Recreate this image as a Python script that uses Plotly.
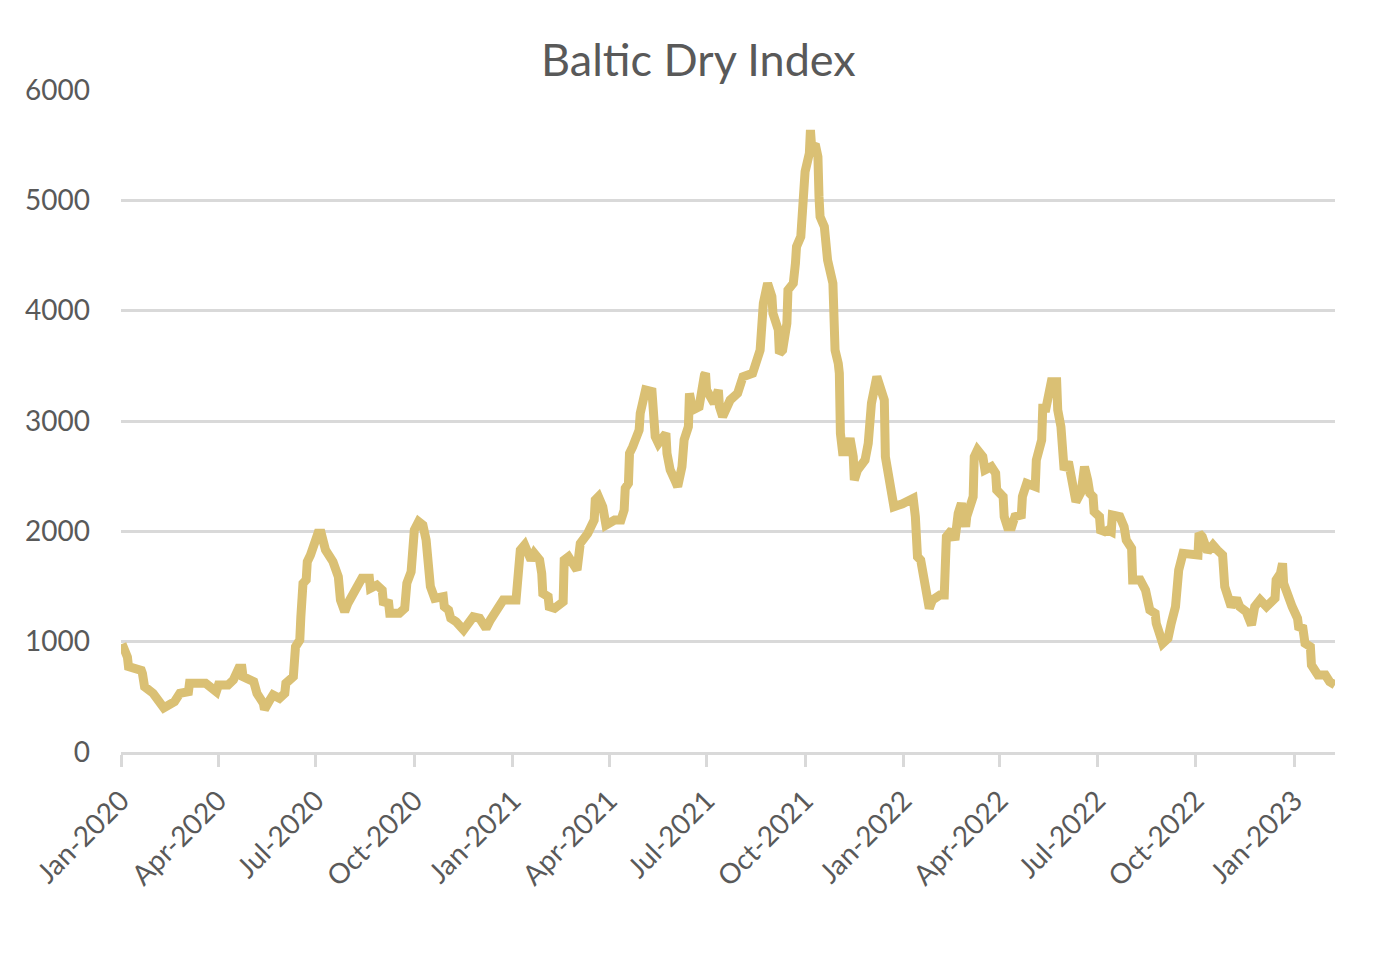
import plotly.graph_objects as go

# Baltic Dry Index
dates = [
    "2020-01-02", "2020-01-06", "2020-01-07", "2020-01-08", "2020-01-17", "2020-01-20",
    "2020-01-21", "2020-01-23", "2020-01-31", "2020-02-06", "2020-02-10", "2020-02-20",
    "2020-02-25", "2020-03-04", "2020-03-05", "2020-03-20", "2020-03-30", "2020-04-01",
    "2020-04-10", "2020-04-15", "2020-04-20", "2020-04-23", "2020-04-24", "2020-05-04",
    "2020-05-07", "2020-05-13", "2020-05-14", "2020-05-19", "2020-05-22", "2020-05-28",
    "2020-06-02", "2020-06-03", "2020-06-10", "2020-06-12", "2020-06-16", "2020-06-17",
    "2020-06-19", "2020-06-22", "2020-06-23", "2020-06-26", "2020-06-30", "2020-07-03",
    "2020-07-06", "2020-07-10", "2020-07-17", "2020-07-22", "2020-07-24", "2020-07-28",
    "2020-07-31", "2020-08-06", "2020-08-13", "2020-08-20", "2020-08-21", "2020-08-27",
    "2020-09-01", "2020-09-02", "2020-09-07", "2020-09-08", "2020-09-17", "2020-09-22",
    "2020-09-24", "2020-09-28", "2020-09-30", "2020-10-01", "2020-10-05", "2020-10-09",
    "2020-10-12", "2020-10-15", "2020-10-16", "2020-10-20", "2020-10-28", "2020-10-29",
    "2020-11-02", "2020-11-04", "2020-11-09", "2020-11-16", "2020-11-25", "2020-12-01",
    "2020-12-07", "2020-12-11", "2020-12-18", "2020-12-23", "2021-01-04", "2021-01-05",
    "2021-01-07", "2021-01-08", "2021-01-12", "2021-01-18", "2021-01-21", "2021-01-26",
    "2021-01-28", "2021-01-29", "2021-02-03", "2021-02-04", "2021-02-09", "2021-02-17",
    "2021-02-18", "2021-02-22", "2021-03-02", "2021-03-04", "2021-03-05", "2021-03-12",
    "2021-03-18", "2021-03-19", "2021-03-22", "2021-03-26", "2021-03-29", "2021-04-06",
    "2021-04-12", "2021-04-15", "2021-04-16", "2021-04-19", "2021-04-20", "2021-04-23",
    "2021-04-26", "2021-04-29", "2021-04-30", "2021-05-05", "2021-05-11", "2021-05-12",
    "2021-05-14", "2021-05-17", "2021-05-24", "2021-05-25", "2021-05-28", "2021-06-02",
    "2021-06-04", "2021-06-08", "2021-06-10", "2021-06-14", "2021-06-15", "2021-06-18",
    "2021-06-24", "2021-06-29", "2021-06-30", "2021-07-01", "2021-07-08", "2021-07-12",
    "2021-07-13", "2021-07-16", "2021-07-23", "2021-07-30", "2021-08-04", "2021-08-13",
    "2021-08-19", "2021-08-20", "2021-08-23", "2021-08-25", "2021-08-27", "2021-08-31",
    "2021-09-01", "2021-09-06", "2021-09-07", "2021-09-10", "2021-09-14", "2021-09-15",
    "2021-09-20", "2021-09-22", "2021-09-23", "2021-09-27", "2021-09-28", "2021-09-29",
    "2021-10-01", "2021-10-05", "2021-10-06", "2021-10-07", "2021-10-11", "2021-10-13",
    "2021-10-14", "2021-10-15", "2021-10-19", "2021-10-22", "2021-10-27", "2021-10-28",
    "2021-10-29", "2021-11-01", "2021-11-02", "2021-11-03", "2021-11-05", "2021-11-09",
    "2021-11-12", "2021-11-15", "2021-11-16", "2021-11-19", "2021-11-26", "2021-11-29",
    "2021-11-30", "2021-12-02", "2021-12-07", "2021-12-10", "2021-12-14", "2021-12-15",
    "2021-12-17", "2021-12-20", "2021-12-22", "2021-12-23", "2021-12-31", "2022-01-07",
    "2022-01-10", "2022-01-12", "2022-01-13", "2022-01-14", "2022-01-17", "2022-01-19",
    "2022-01-21", "2022-01-24", "2022-01-25", "2022-01-28", "2022-02-04", "2022-02-08",
    "2022-02-09", "2022-02-10", "2022-02-15", "2022-02-18", "2022-02-21", "2022-02-24",
    "2022-02-28", "2022-03-01", "2022-03-07", "2022-03-08", "2022-03-11", "2022-03-16",
    "2022-03-18", "2022-03-24", "2022-03-28", "2022-03-29", "2022-04-04", "2022-04-05",
    "2022-04-08", "2022-04-12", "2022-04-15", "2022-04-21", "2022-04-22", "2022-04-26",
    "2022-05-04", "2022-05-05", "2022-05-10", "2022-05-11", "2022-05-14", "2022-05-16",
    "2022-05-19", "2022-05-24", "2022-05-25", "2022-05-28", "2022-05-30", "2022-05-31",
    "2022-06-04", "2022-06-08", "2022-06-09", "2022-06-11", "2022-06-16", "2022-06-19",
    "2022-06-22", "2022-06-24", "2022-06-27", "2022-06-28", "2022-07-03", "2022-07-04",
    "2022-07-08", "2022-07-11", "2022-07-14", "2022-07-15", "2022-07-22", "2022-07-26",
    "2022-07-28", "2022-08-02", "2022-08-03", "2022-08-10", "2022-08-15", "2022-08-17",
    "2022-08-19", "2022-08-24", "2022-08-25", "2022-08-29", "2022-08-31", "2022-09-05",
    "2022-09-07", "2022-09-08", "2022-09-12", "2022-09-13", "2022-09-15", "2022-09-19",
    "2022-09-27", "2022-10-03", "2022-10-04", "2022-10-07", "2022-10-12", "2022-10-17",
    "2022-10-21", "2022-10-26", "2022-10-28", "2022-10-31", "2022-11-03", "2022-11-08",
    "2022-11-11", "2022-11-17", "2022-11-22", "2022-11-25", "2022-11-30", "2022-12-06",
    "2022-12-14", "2022-12-15", "2022-12-19", "2022-12-21", "2022-12-22", "2022-12-30",
    "2023-01-04", "2023-01-05", "2023-01-09", "2023-01-11", "2023-01-16", "2023-01-17",
    "2023-01-23", "2023-01-30", "2023-02-03", "2023-02-08",
]

bdi = [
    980, 900, 860, 775, 761, 740,
    713, 592, 532, 441, 400, 456,
    532, 547, 623, 623, 547, 607,
    607, 653, 759, 759, 683, 637,
    532, 441, 385, 471, 517, 487,
    532, 623, 683, 954, 1015, 1226,
    1529, 1560, 1725, 1785, 1876, 1982,
    1982, 1831, 1725, 1589, 1378, 1271,
    1348, 1468, 1574, 1574, 1484, 1513,
    1468, 1362, 1348, 1257, 1257, 1302,
    1529, 1634, 1831, 2012, 2087, 2057,
    1921, 1710, 1499, 1393, 1408, 1317,
    1287, 1212, 1181, 1106, 1226, 1212,
    1121, 1196, 1287, 1378, 1378, 1453,
    1620, 1831, 1876, 1740, 1800, 1740,
    1619, 1438, 1408, 1317, 1302, 1362,
    1740, 1770, 1649, 1770, 1891, 1982,
    2102, 2284, 2314, 2223, 2057, 2102,
    2102, 2193, 2390, 2435, 2707, 2767,
    2858, 2918, 3070, 3281, 3266, 3070,
    2858, 2797, 2888, 2707, 2556, 2450,
    2405, 2586, 2828, 2948, 3251, 3100,
    3130, 3417, 3432, 3281, 3161, 3281,
    3130, 3039, 3190, 3251, 3402, 3432,
    3583, 3643, 4066, 4217, 4248, 4127,
    3976, 3825, 3613, 3643, 3885, 4187,
    4248, 4429, 4580, 4671, 4943, 5184,
    5260, 5426, 5637, 5500, 5486, 5395,
    5033, 4852, 4761, 4459, 4248, 3795,
    3643, 3522, 3432, 2888, 2722, 2722,
    2843, 2676, 2465, 2556, 2646, 2797,
    3100, 3161, 3402, 3281, 3190, 2676,
    2526, 2375, 2284, 2223, 2250, 2299,
    2299, 2133, 2042, 1770, 1740, 1649,
    1468, 1408, 1302, 1378, 1423, 1423,
    1710, 1951, 2012, 1921, 2163, 2253,
    2042, 2133, 2314, 2676, 2737, 2676,
    2556, 2586, 2526, 2375, 2314, 2133,
    2042, 2042, 2133, 2148, 2314, 2435,
    2405, 2646, 2828, 3115, 3115, 3251,
    3356, 3356, 3100, 2948, 2707, 2556,
    2631, 2465, 2344, 2268, 2359, 2586,
    2465, 2344, 2314, 2178, 2133, 2012,
    1997, 2012, 1997, 2148, 2133, 2042,
    1921, 1846, 1559, 1559, 1468, 1378,
    1287, 1257, 1166, 1045, 985, 1030,
    1090, 1166, 1317, 1529, 1649, 1800,
    1800, 1785, 1982, 1951, 1815, 1876,
    1831, 1785, 1499, 1378, 1317, 1393,
    1317, 1272, 1151, 1317, 1378, 1317,
    1393, 1559, 1619, 1710, 1529, 1317,
    1212, 1136, 1121, 985, 954, 789,
    698, 698, 637, 607,
]

tick_dates = ["2020-01-01", "2020-04-01", "2020-07-01", "2020-10-01",
              "2021-01-01", "2021-04-01", "2021-07-01", "2021-10-01",
              "2022-01-01", "2022-04-01", "2022-07-01", "2022-10-01",
              "2023-01-01"]
tick_labels = ["Jan-2020", "Apr-2020", "Jul-2020", "Oct-2020",
               "Jan-2021", "Apr-2021", "Jul-2021", "Oct-2021",
               "Jan-2022", "Apr-2022", "Jul-2022", "Oct-2022",
               "Jan-2023"]
y_ticks = [0, 1000, 2000, 3000, 4000, 5000, 6000]

grid = "#D9D9D9"
text_col = "#595959"
font_name = "Lato"

fig = go.Figure()
fig.add_trace(go.Scatter(
    x=dates, y=bdi, mode="lines",
    line=dict(color="#DAC074", width=9),
    name="BDI", showlegend=False,
))

# page body adds an 8px offset, margins compensate for it
fig.update_layout(
    width=1392, height=970,
    paper_bgcolor="white", plot_bgcolor="white",
    margin=dict(l=113, r=65, t=82, b=226),
    font=dict(family=font_name, color=text_col, size=28),
    title=dict(text="Baltic Dry Index", x=0.496, xanchor="center",
               y=1 - 52 / 970, yanchor="middle", yref="container",
               font=dict(family=font_name, size=45, color=text_col)),
    xaxis=dict(
        type="date", range=["2020-01-01", "2023-02-08"],
        tickvals=tick_dates, ticktext=tick_labels, tickangle=-45,
        showgrid=False, showline=True, linecolor=grid, linewidth=3,
        ticks="outside", ticklen=12, tickwidth=3, tickcolor=grid,
        ticklabelstandoff=6,
        tickfont=dict(size=28, color=text_col), zeroline=False,
    ),
    yaxis=dict(
        range=[0, 6000], tickvals=y_ticks,
        showgrid=True, gridcolor=grid, gridwidth=3,
        zeroline=False, showline=False, ticks="",
        ticklabelstandoff=30,
        tickfont=dict(size=28, color=text_col),
    ),
)

fig.write_html("out.html")
